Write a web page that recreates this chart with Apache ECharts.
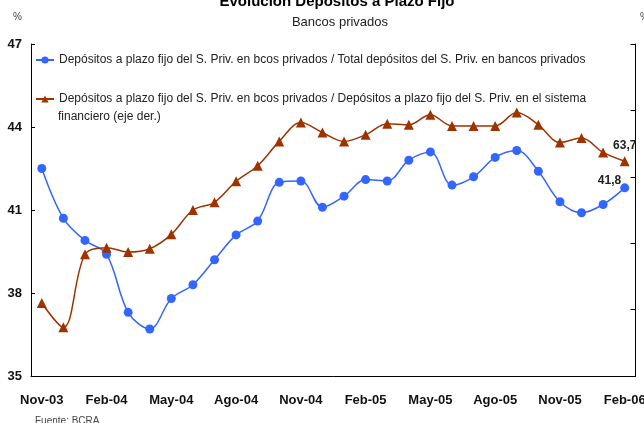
<!DOCTYPE html>
<html>
<head>
<meta charset="utf-8">
<style>
  html, body { margin: 0; padding: 0; background: #fff; }
  #chart { width: 644px; height: 423px; }
</style>
<script src="https://cdn.jsdelivr.net/npm/echarts@6/dist/echarts.min.js"></script>
</head>
<body>
<div id="chart"></div>
<script>
// Monthly categories, Nov-03 .. Feb-06
const months = [
  'Nov-03','Dic-03','Ene-04','Feb-04','Mar-04','Abr-04','May-04','Jun-04','Jul-04','Ago-04',
  'Sep-04','Oct-04','Nov-04','Dic-04','Ene-05','Feb-05','Mar-05','Abr-05','May-05','Jun-05',
  'Jul-05','Ago-05','Sep-05','Oct-05','Nov-05','Dic-05','Ene-06','Feb-06'
];

// Fixed-term deposits of private sector / total private deposits, private banks (%)
const shareOfTotal = [
  42.5, 40.7, 39.9, 39.4, 37.3, 36.7, 37.8, 38.3, 39.2, 40.1,
  40.6, 42.0, 42.05, 41.1, 41.5, 42.1, 42.05, 42.8, 43.1, 41.9,
  42.2, 42.9, 43.15, 42.4, 41.3, 40.9, 41.2, 41.8
];

// Fixed-term deposits in private banks / fixed-term deposits in the whole system (%, right axis)
const shareOfSystem = [
  57.3, 56.2, 59.5, 59.8, 59.6, 59.75, 60.4, 61.5, 61.85, 62.8,
  63.5, 64.6, 65.45, 65.0, 64.6, 64.9, 65.4, 65.35, 65.8, 65.3,
  65.3, 65.3, 65.9, 65.35, 64.55, 64.75, 64.1, 63.7
];

const leftAxis = { min: 35, max: 47, interval: 3 };
const rightAxis = { min: 54, max: 69, interval: 3 };

const nameTotal = 'Depósitos a plazo fijo del S. Priv. en bcos privados / Total depósitos del S. Priv. en bancos privados';
const nameSystem = 'Depósitos a plazo fijo del S. Priv. en bcos privados / Depósitos a plazo fijo del S. Priv. en el sistema';
const nameSystemCont = 'financiero (eje der.)';

const BLUE = '#3366ff';
const BROWN = '#9e3300';
const sans = '"Liberation Sans", Arial, sans-serif';

const chart = echarts.init(document.getElementById('chart'), null, { renderer: 'canvas' });

// Only the final point of each series carries a value label
function lastLabel(arr, pos, offset) {
  return arr.map((v, i) => i === arr.length - 1
    ? { value: v, label: { show: true, position: pos, offset: offset,
        formatter: (p) => p.value.toFixed(1).replace('.', ','),
        fontFamily: sans, fontWeight: 'bold', fontSize: 12, color: '#222' } }
    : v);
}

chart.setOption({
  animation: false,
  backgroundColor: '#fff',
  title: [
    { text: 'Evolución Depósitos a Plazo Fijo', left: 332, top: -11, textAlign: 'center',
      textStyle: { fontFamily: sans, fontWeight: 'bold', fontSize: 15, color: '#000' } },
    { text: 'Bancos privados', left: 335, top: 11, textAlign: 'center',
      textStyle: { fontFamily: sans, fontWeight: 'normal', fontSize: 13, color: '#222' } },
    { text: '%', left: 8, top: 7,
      textStyle: { fontFamily: sans, fontWeight: 'normal', fontSize: 10, color: '#444' } },
    { text: '%', left: 635, top: 7,
      textStyle: { fontFamily: sans, fontWeight: 'normal', fontSize: 10, color: '#444' } },
    { text: 'Fuente: BCRA', left: 30, top: 411,
      textStyle: { fontFamily: sans, fontWeight: 'normal', fontSize: 10, color: '#444' } }
  ],
  legend: [
    { data: [nameTotal], left: 30, top: 49, itemWidth: 18, itemHeight: 9,
      textStyle: { fontFamily: sans, fontSize: 12, color: '#222' } },
    { data: [nameSystem], left: 30, top: 88, itemWidth: 18, itemHeight: 9,
      textStyle: { fontFamily: sans, fontSize: 12, color: '#222' } }
  ],
  graphic: [
    { type: 'text', left: 58, top: 111,
      style: { text: nameSystemCont, font: '12px ' + sans, fill: '#222' } }
  ],
  grid: { left: 31, right: 8.5, top: 44, bottom: 47, containLabel: false, outerBoundsMode: 'none' },
  xAxis: {
    type: 'category',
    data: months,
    boundaryGap: true,
    axisLine: { lineStyle: { color: '#000', width: 1 } },
    axisTick: { inside: true, length: 4, interval: 2, lineStyle: { color: '#000' } },
    axisLabel: { interval: 2, margin: 18, fontFamily: sans, fontWeight: 'bold', fontSize: 13, color: '#111' },
    splitLine: { show: false }
  },
  yAxis: [
    { type: 'value', min: leftAxis.min, max: leftAxis.max, interval: leftAxis.interval,
      axisLine: { show: true, lineStyle: { color: '#000' } },
      axisTick: { show: true, inside: true, length: 4, lineStyle: { color: '#000' } },
      axisLabel: { margin: 9, fontFamily: sans, fontWeight: 'bold', fontSize: 13, color: '#111' },
      splitLine: { show: false } },
    { type: 'value', min: rightAxis.min, max: rightAxis.max, interval: rightAxis.interval,
      position: 'right',
      axisLine: { show: true, lineStyle: { color: '#000' } },
      axisTick: { show: true, inside: true, length: 5, lineStyle: { color: '#000' } },
      axisLabel: { show: false },
      splitLine: { show: false } }
  ],
  series: [
    { name: nameTotal, type: 'line', yAxisIndex: 0, smooth: 0.35,
      data: lastLabel(shareOfTotal, 'left', [6, -7]),
      symbol: 'circle', symbolSize: 9,
      lineStyle: { color: BLUE, width: 1.5 }, itemStyle: { color: BLUE } },
    { name: nameSystem, type: 'line', yAxisIndex: 1, smooth: 0.35,
      data: lastLabel(shareOfSystem, 'top', [0, 0]),
      symbol: 'triangle', symbolSize: 10,
      lineStyle: { color: BROWN, width: 1.5 }, itemStyle: { color: BROWN } }
  ]
});
</script>
</body>
</html>
